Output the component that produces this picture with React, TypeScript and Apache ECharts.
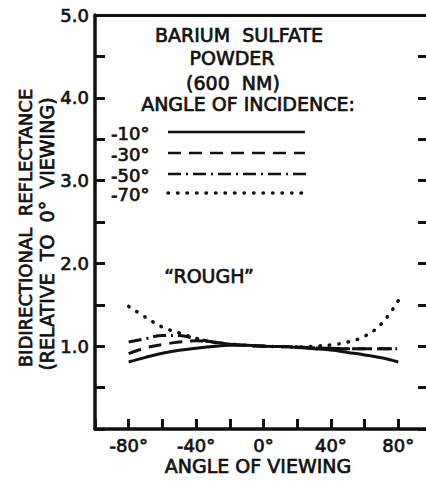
import React, { useEffect, useRef } from "react";
import * as echarts from "echarts";

const angles = [-80, -70, -60, -50, -40, -30, -20, -10, 0, 10, 20, 30, 40, 50, 60, 70, 80];
const inc10 = [0.81, 0.865, 0.915, 0.95, 0.975, 0.995, 1.01, 1.01, 1.0, 0.995, 0.985, 0.97, 0.955, 0.925, 0.895, 0.86, 0.81];
const inc30 = [0.91, 0.98, 1.02, 1.05, 1.065, 1.05, 1.025, 1.01, 1.0, 0.995, 0.99, 0.98, 0.975, 0.97, 0.97, 0.97, 0.97];
const inc50 = [1.05, 1.09, 1.13, 1.13, 1.09, 1.05, 1.025, 1.01, 1.0, 0.995, 0.99, 0.98, 0.975, 0.97, 0.97, 0.97, 0.97];
const inc70 = [1.48, 1.35, 1.23, 1.16, 1.095, 1.05, 1.025, 1.01, 1.0, 0.995, 0.99, 1.0, 1.015, 1.05, 1.12, 1.27, 1.55];

const legendLabels = ["-10°", "-30°", "-50°", "-70°"];
const titleLines = ["BARIUM  SULFATE", "POWDER", "(600  NM)", "ANGLE OF INCIDENCE:"];
const xAxisTitle = "ANGLE OF VIEWING";
const yAxisTitle1 = "BIDIRECTIONAL  REFLECTANCE";
const yAxisTitle2 = "(RELATIVE  TO  0°  VIEWING)";
const note = "“ROUGH”";

const FONT = "DejaVu Sans";
const INK = "#111";
const TB = 0.7;

const dashStyles: (number[] | "solid")[] = ["solid", [13, 8], [13, 5, 2, 5], [0.5, 9]];

export default function App() {
  const ref = useRef<HTMLDivElement>(null);
  useEffect(() => {
    if (!ref.current) return;
    const chart = echarts.init(ref.current, undefined, { renderer: "svg" });
    const seriesData = [inc10, inc30, inc50, inc70];
    const legendY = [132, 153, 174, 193];
    const legendX2 = [305, 305, 311, 308];
    const textY = [133, 154, 175, 194];
    const titleY = [35, 58, 83, 104];
    const titleX = [239, 232, 233, 248];

    const txt = (t: string, x: number, y: number, size: number, align = "center", rotation = 0) => ({
      type: "text",
      x,
      y,
      rotation,
      style: {
        text: t,
        fontFamily: FONT,
        fontSize: size,
        fill: INK,
        stroke: INK,
        lineWidth: TB,
        align,
        verticalAlign: "middle",
      },
    });

    const graphics: any[] = [];
    titleLines.forEach((t, i) => graphics.push(txt(t, titleX[i], titleY[i], 19)));
    legendLabels.forEach((t, i) => {
      graphics.push(txt(t, 111, textY[i], 18, "left"));
      const d = dashStyles[i];
      graphics.push({
        type: "line",
        shape: { x1: 168, y1: legendY[i], x2: legendX2[i], y2: legendY[i] },
        style: {
          stroke: INK,
          lineWidth: i === 3 ? 3.5 : 2.5,
          lineDash: d === "solid" ? null : d,
          lineCap: i === 3 ? "round" : "butt",
        },
      });
    });
    graphics.push(txt(note, 209, 276, 19));
    graphics.push(txt(xAxisTitle, 258, 466, 19));
    graphics.push(txt(yAxisTitle1, 25, 228, 18, "center", Math.PI / 2));
    graphics.push(txt(yAxisTitle2, 47, 234, 19, "center", Math.PI / 2));

    const lineStyleFor = (i: number) => {
      const d = dashStyles[i];
      return {
        color: INK,
        width: i === 3 ? 3.5 : 3,
        type: d === "solid" ? "solid" : d,
        cap: i === 3 ? "round" : "butt",
      };
    };

    chart.setOption({
      animation: false,
      backgroundColor: "#fff",
      grid: { left: 95, top: 15, width: 337, height: 414, containLabel: false, outerBoundsMode: "none" },
      xAxis: [
        {
          type: "value",
          min: -100,
          max: 100,
          interval: 20,
          position: "bottom",
          axisLine: { show: true, onZero: false, lineStyle: { color: INK, width: 3.5 } },
          axisTick: { show: true, inside: true, length: 10, lineStyle: { color: INK, width: 3 } },
          splitLine: { show: false },
          axisLabel: {
            margin: 7,
            color: INK,
            fontFamily: FONT,
            fontSize: 18,
            textBorderColor: INK,
            textBorderWidth: TB,
            formatter: (v: number) => (v % 40 === 0 && Math.abs(v) <= 80 ? `${v}°` : ""),
          },
        },
        {
          type: "value",
          min: -100,
          max: 100,
          position: "top",
          axisLine: { show: true, onZero: false, lineStyle: { color: INK, width: 3 } },
          axisTick: { show: false },
          axisLabel: { show: false },
          splitLine: { show: false },
        },
      ],
      yAxis: [
        {
          type: "value",
          min: 0,
          max: 5,
          interval: 0.5,
          position: "left",
          axisLine: { show: true, onZero: false, lineStyle: { color: INK, width: 3.5 } },
          axisTick: { show: true, inside: true, length: 10, lineStyle: { color: INK, width: 3 } },
          splitLine: { show: false },
          axisLabel: {
            margin: 6,
            color: INK,
            fontFamily: FONT,
            fontSize: 18,
            textBorderColor: INK,
            textBorderWidth: TB,
            formatter: (v: number) => (v > 0 && Math.abs(v - Math.round(v)) < 1e-6 ? v.toFixed(1) : ""),
          },
        },
        {
          type: "value",
          min: 0,
          max: 5,
          interval: 0.5,
          position: "right",
          axisLine: { show: true, onZero: false, lineStyle: { color: INK, width: 3 } },
          axisTick: { show: true, inside: true, length: 14, lineStyle: { color: INK, width: 3 } },
          axisLabel: { show: false },
          splitLine: { show: false },
        },
      ],
      series: seriesData.map((vals, i) => ({
        type: "line",
        name: legendLabels[i],
        data: angles.map((a, j) => [a, vals[j]]),
        smooth: 0.4,
        showSymbol: false,
        symbol: "none",
        lineStyle: lineStyleFor(i),
        z: 3,
      })),
      graphic: graphics,
    });
    return () => chart.dispose();
  }, []);

  return (
    <div
      ref={ref}
      style={{ position: "fixed", left: 0, top: 0, width: 426, height: 481, background: "#fff" }}
    />
  );
}
